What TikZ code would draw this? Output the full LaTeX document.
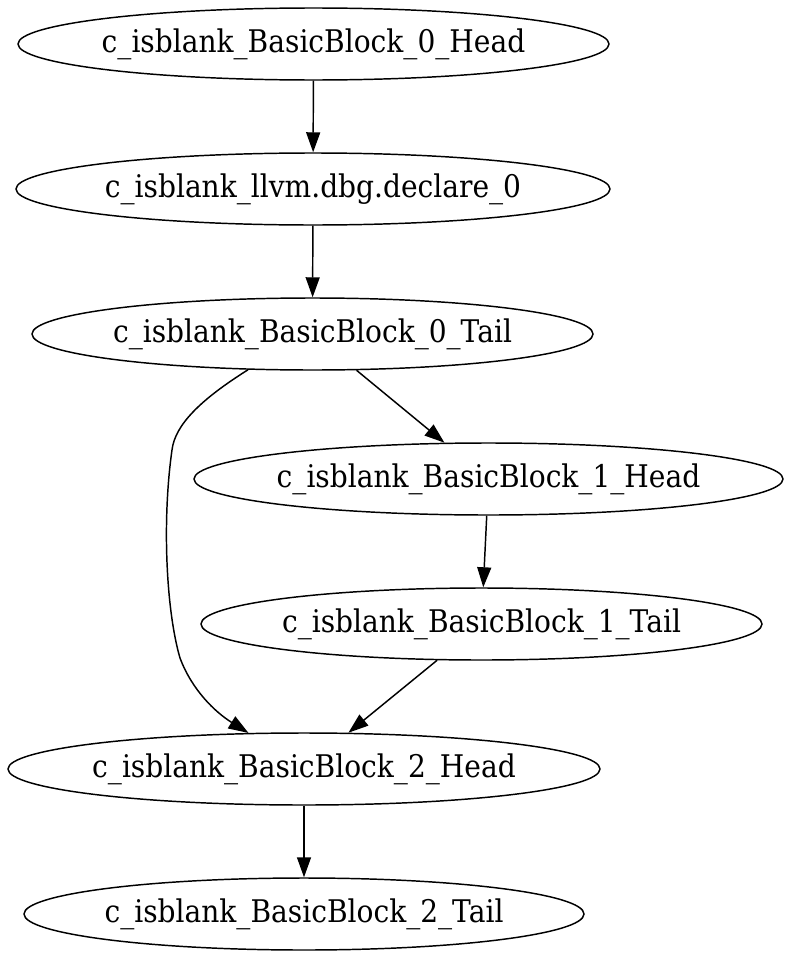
\documentclass[tikz,border=0pt]{standalone}
\usepackage{fontspec}
\newfontfamily\graphfont[FakeStretch=0.9]{DejaVu Serif}
\usepackage{tikz}
\usetikzlibrary{shapes.geometric, arrows.meta, positioning}

\begin{document}
\begin{tikzpicture}[x=0.75pt, y=-0.75pt,
		block/.style={ellipse, draw, line width=1.1pt, inner sep=0pt, minimum height=54pt,
			font=\graphfont\fontsize{23.4}{28}\selectfont},
		edge/.style={-{Triangle[length=15pt, width=10.5pt]}, line width=1.1pt}]
			\useasboundingbox (0,0) rectangle (794,960);
			% Blocks
			\node[block, minimum width=443.25pt] (bbzhead) at (313.5,44) {\makebox[0pt]{c\_isblank\_BasicBlock\_0\_Head}};
			\node[block, minimum width=445.5pt] (dbgdecl) at (313,189) {\makebox[0pt]{c\_isblank\_llvm.dbg.declare\_0}};
			\node[block, minimum width=420.75pt] (bbztail) at (312.5,334) {\makebox[0pt]{c\_isblank\_BasicBlock\_0\_Tail}};
			\node[block, minimum width=441.75pt] (bbohead) at (488.5,479) {\makebox[0pt]{c\_isblank\_BasicBlock\_1\_Head}};
			\node[block, minimum width=420.75pt] (bbotail) at (481.5,624) {\makebox[0pt]{c\_isblank\_BasicBlock\_1\_Tail}};
			\node[block, minimum width=444pt] (bbthead) at (304,769) {\makebox[0pt]{c\_isblank\_BasicBlock\_2\_Head}};
			\node[block, minimum width=420pt] (bbttail) at (304,914) {\makebox[0pt]{c\_isblank\_BasicBlock\_2\_Tail}};
			
			% Edges
			\draw[edge] (bbzhead) -- (dbgdecl);
			\draw[edge] (dbgdecl) -- (bbztail);
			\draw[edge] (bbztail) -- (bbohead);
			\draw[edge] (bbohead) -- (bbotail);
			\draw[edge] (bbotail) -- (bbthead);
			\draw[edge] (bbthead) -- (bbttail);
			\draw[edge] (bbztail.209) .. controls (200,400) and (175,425) .. (172,450)
				.. controls (162,520) and (166,610) .. (180,658)
				.. controls (192,690) and (215,712) .. (bbthead.147);
			
		\end{tikzpicture}
\end{document}
